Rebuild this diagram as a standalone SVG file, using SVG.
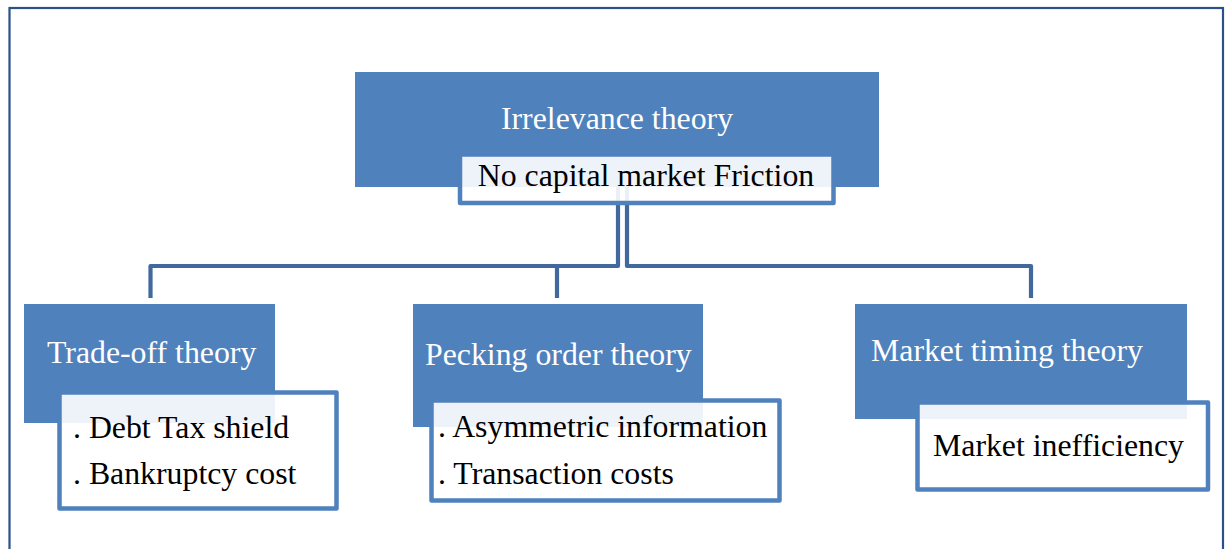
<svg xmlns="http://www.w3.org/2000/svg" width="1226" height="549" viewBox="0 0 1226 549">
<style>
.frame{fill:none;stroke:#29518A;stroke-width:2.2}
.head{fill:#4F81BD}
.sub{fill:#FFFFFF;fill-opacity:0.9;stroke:#4F81BD;stroke-width:4.5;stroke-linejoin:round}
.conn{fill:none;stroke:#41699D;stroke-width:4.2;stroke-linejoin:round}
.t{font-family:"Liberation Serif","Times New Roman",serif;font-size:31.8px}
.w{fill:#FFFFFF}
.k{fill:#000000}
</style>
<rect width="1226" height="549" fill="#FFFFFF"/>
<rect class="frame" x="9.5" y="8" width="1213.5" height="560"/>
<g id="irrelevance">
<rect class="head" x="355" y="72" width="524" height="115"/>
</g>
<g id="connectors">
<path class="conn" d="M618,187 V266 H150.5 V298"/>
<path class="conn" d="M627,187 V266 H1031 V298"/>
<path class="conn" d="M618,266 H557 V298"/>
</g>
<g id="irrelevance-text">
<text class="t w" x="617" y="129" text-anchor="middle">Irrelevance theory</text>
</g>
<g id="no-friction">
<rect class="sub" x="460" y="154.5" width="373.5" height="48.5"/>
<text class="t k" x="646" y="186" text-anchor="middle">No capital market Friction</text>
</g>
<g id="trade-off">
<rect class="head" x="24" y="304" width="251" height="119"/>
<text class="t w" x="47" y="363">Trade-off theory</text>
</g>
<g id="trade-off-details">
<rect class="sub" x="59.5" y="392.5" width="277" height="116"/>
<text class="t k" x="73" y="438">. Debt Tax shield</text>
<text class="t k" x="73" y="484">. Bankruptcy cost</text>
</g>
<g id="pecking-order">
<rect class="head" x="413" y="304" width="290" height="123"/>
<text class="t w" x="425" y="365">Pecking order theory</text>
</g>
<g id="pecking-order-details">
<rect class="sub" x="431.5" y="400.5" width="348" height="100"/>
<text class="t k" x="438" y="437">. Asymmetric information</text>
<text class="t k" x="438" y="484">. Transaction costs</text>
</g>
<g id="market-timing">
<rect class="head" x="855" y="304" width="332" height="115"/>
<text class="t w" x="871" y="361">Market timing theory</text>
</g>
<g id="market-timing-details">
<rect class="sub" x="917.5" y="402.5" width="290.5" height="87"/>
<text class="t k" x="933" y="456">Market inefficiency</text>
</g>
</svg>
